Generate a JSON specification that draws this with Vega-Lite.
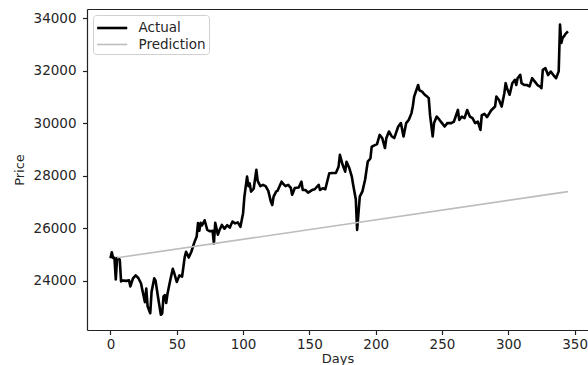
{
  "$schema": "https://vega.github.io/schema/vega-lite/v6.json",
  "width": 501,
  "height": 321,
  "autosize": {"type": "none"},
  "padding": {"left": 87, "top": 9, "right": 0, "bottom": 35},
  "background": "white",
  "config": {
    "view": {"stroke": null},
    "font": "DejaVu Sans",
    "axis": {
      "grid": false,
      "domainColor": "#222222",
      "domainWidth": 1.2,
      "tickColor": "#222222",
      "tickSize": 4.5,
      "tickWidth": 1.2,
      "labelFont": "DejaVu Sans",
      "labelFontSize": 13.5,
      "labelColor": "#262626",
      "labelPadding": 3,
      "titleFont": "DejaVu Sans",
      "titleFontSize": 13,
      "titleFontWeight": "normal",
      "titleColor": "#262626"
    }
  },
  "datasets": {
    "prices": [
      {"day": 0, "price": 24850, "series": "Actual"},
      {"day": 1, "price": 25080, "series": "Actual"},
      {"day": 2, "price": 24860, "series": "Actual"},
      {"day": 3, "price": 24870, "series": "Actual"},
      {"day": 4, "price": 24050, "series": "Actual"},
      {"day": 5, "price": 24860, "series": "Actual"},
      {"day": 6, "price": 24850, "series": "Actual"},
      {"day": 7, "price": 24800, "series": "Actual"},
      {"day": 8, "price": 23970, "series": "Actual"},
      {"day": 9, "price": 24000, "series": "Actual"},
      {"day": 10, "price": 24000, "series": "Actual"},
      {"day": 12, "price": 23990, "series": "Actual"},
      {"day": 14, "price": 24010, "series": "Actual"},
      {"day": 15, "price": 23780, "series": "Actual"},
      {"day": 17, "price": 24090, "series": "Actual"},
      {"day": 19, "price": 24200, "series": "Actual"},
      {"day": 21, "price": 24100, "series": "Actual"},
      {"day": 23, "price": 23900, "series": "Actual"},
      {"day": 24, "price": 23650, "series": "Actual"},
      {"day": 26, "price": 23180, "series": "Actual"},
      {"day": 27, "price": 23700, "series": "Actual"},
      {"day": 28, "price": 23020, "series": "Actual"},
      {"day": 30, "price": 22760, "series": "Actual"},
      {"day": 31, "price": 23580, "series": "Actual"},
      {"day": 33, "price": 24090, "series": "Actual"},
      {"day": 34, "price": 24000, "series": "Actual"},
      {"day": 36, "price": 23330, "series": "Actual"},
      {"day": 38, "price": 22700, "series": "Actual"},
      {"day": 39, "price": 22750, "series": "Actual"},
      {"day": 40, "price": 23400, "series": "Actual"},
      {"day": 41, "price": 23450, "series": "Actual"},
      {"day": 42, "price": 23150, "series": "Actual"},
      {"day": 43, "price": 23500, "series": "Actual"},
      {"day": 45, "price": 24000, "series": "Actual"},
      {"day": 47, "price": 24450, "series": "Actual"},
      {"day": 48, "price": 24300, "series": "Actual"},
      {"day": 50, "price": 23950, "series": "Actual"},
      {"day": 52, "price": 24200, "series": "Actual"},
      {"day": 54, "price": 24150, "series": "Actual"},
      {"day": 56, "price": 24900, "series": "Actual"},
      {"day": 57, "price": 25100, "series": "Actual"},
      {"day": 59, "price": 24880, "series": "Actual"},
      {"day": 61, "price": 25100, "series": "Actual"},
      {"day": 63, "price": 25420, "series": "Actual"},
      {"day": 65, "price": 25680, "series": "Actual"},
      {"day": 66, "price": 26190, "series": "Actual"},
      {"day": 67, "price": 25900, "series": "Actual"},
      {"day": 68, "price": 26200, "series": "Actual"},
      {"day": 69, "price": 26100, "series": "Actual"},
      {"day": 71, "price": 26300, "series": "Actual"},
      {"day": 73, "price": 25930, "series": "Actual"},
      {"day": 75, "price": 25880, "series": "Actual"},
      {"day": 77, "price": 25900, "series": "Actual"},
      {"day": 78, "price": 25420, "series": "Actual"},
      {"day": 79, "price": 26200, "series": "Actual"},
      {"day": 81, "price": 25750, "series": "Actual"},
      {"day": 82, "price": 25900, "series": "Actual"},
      {"day": 84, "price": 26120, "series": "Actual"},
      {"day": 86, "price": 25980, "series": "Actual"},
      {"day": 88, "price": 26110, "series": "Actual"},
      {"day": 90, "price": 26020, "series": "Actual"},
      {"day": 92, "price": 26250, "series": "Actual"},
      {"day": 94, "price": 26180, "series": "Actual"},
      {"day": 96, "price": 26220, "series": "Actual"},
      {"day": 98, "price": 26050, "series": "Actual"},
      {"day": 100, "price": 26570, "series": "Actual"},
      {"day": 101, "price": 27200, "series": "Actual"},
      {"day": 103, "price": 27960, "series": "Actual"},
      {"day": 104, "price": 27600, "series": "Actual"},
      {"day": 105, "price": 27700, "series": "Actual"},
      {"day": 106, "price": 27390, "series": "Actual"},
      {"day": 108, "price": 27500, "series": "Actual"},
      {"day": 110, "price": 28220, "series": "Actual"},
      {"day": 111, "price": 27800, "series": "Actual"},
      {"day": 113, "price": 27600, "series": "Actual"},
      {"day": 115, "price": 27650, "series": "Actual"},
      {"day": 117, "price": 27600, "series": "Actual"},
      {"day": 119, "price": 27420, "series": "Actual"},
      {"day": 121, "price": 27000, "series": "Actual"},
      {"day": 122, "price": 26880, "series": "Actual"},
      {"day": 123, "price": 27200, "series": "Actual"},
      {"day": 125, "price": 27400, "series": "Actual"},
      {"day": 126, "price": 27420, "series": "Actual"},
      {"day": 129, "price": 27770, "series": "Actual"},
      {"day": 130, "price": 27700, "series": "Actual"},
      {"day": 132, "price": 27600, "series": "Actual"},
      {"day": 134, "price": 27650, "series": "Actual"},
      {"day": 136, "price": 27530, "series": "Actual"},
      {"day": 137, "price": 27270, "series": "Actual"},
      {"day": 139, "price": 27530, "series": "Actual"},
      {"day": 142, "price": 27550, "series": "Actual"},
      {"day": 144, "price": 27770, "series": "Actual"},
      {"day": 145, "price": 27450, "series": "Actual"},
      {"day": 147, "price": 27450, "series": "Actual"},
      {"day": 149, "price": 27350, "series": "Actual"},
      {"day": 152, "price": 27450, "series": "Actual"},
      {"day": 154, "price": 27480, "series": "Actual"},
      {"day": 157, "price": 27650, "series": "Actual"},
      {"day": 158, "price": 27450, "series": "Actual"},
      {"day": 160, "price": 27520, "series": "Actual"},
      {"day": 162, "price": 27480, "series": "Actual"},
      {"day": 165, "price": 28090, "series": "Actual"},
      {"day": 168, "price": 28100, "series": "Actual"},
      {"day": 170, "price": 28100, "series": "Actual"},
      {"day": 172, "price": 28340, "series": "Actual"},
      {"day": 173, "price": 28790, "series": "Actual"},
      {"day": 175, "price": 28420, "series": "Actual"},
      {"day": 177, "price": 28150, "series": "Actual"},
      {"day": 178, "price": 28530, "series": "Actual"},
      {"day": 180, "price": 28300, "series": "Actual"},
      {"day": 182, "price": 27960, "series": "Actual"},
      {"day": 183, "price": 27650, "series": "Actual"},
      {"day": 185, "price": 27100, "series": "Actual"},
      {"day": 186, "price": 25930, "series": "Actual"},
      {"day": 188, "price": 27200, "series": "Actual"},
      {"day": 190, "price": 27400, "series": "Actual"},
      {"day": 192, "price": 27840, "series": "Actual"},
      {"day": 194, "price": 28530, "series": "Actual"},
      {"day": 196, "price": 28650, "series": "Actual"},
      {"day": 197, "price": 29100, "series": "Actual"},
      {"day": 199, "price": 29150, "series": "Actual"},
      {"day": 201, "price": 29200, "series": "Actual"},
      {"day": 203, "price": 29550, "series": "Actual"},
      {"day": 205, "price": 29420, "series": "Actual"},
      {"day": 207, "price": 29050, "series": "Actual"},
      {"day": 208, "price": 29420, "series": "Actual"},
      {"day": 210, "price": 29680, "series": "Actual"},
      {"day": 212, "price": 29500, "series": "Actual"},
      {"day": 214, "price": 29430, "series": "Actual"},
      {"day": 217, "price": 29870, "series": "Actual"},
      {"day": 219, "price": 30000, "series": "Actual"},
      {"day": 221, "price": 29490, "series": "Actual"},
      {"day": 223, "price": 30000, "series": "Actual"},
      {"day": 225, "price": 30130, "series": "Actual"},
      {"day": 227, "price": 30380, "series": "Actual"},
      {"day": 228, "price": 30640, "series": "Actual"},
      {"day": 229, "price": 31010, "series": "Actual"},
      {"day": 232, "price": 31450, "series": "Actual"},
      {"day": 233, "price": 31250, "series": "Actual"},
      {"day": 235, "price": 31200, "series": "Actual"},
      {"day": 237, "price": 31080, "series": "Actual"},
      {"day": 239, "price": 31000, "series": "Actual"},
      {"day": 240, "price": 30950, "series": "Actual"},
      {"day": 241, "price": 30300, "series": "Actual"},
      {"day": 243, "price": 29490, "series": "Actual"},
      {"day": 244, "price": 30000, "series": "Actual"},
      {"day": 246, "price": 30250, "series": "Actual"},
      {"day": 248, "price": 30130, "series": "Actual"},
      {"day": 250, "price": 30000, "series": "Actual"},
      {"day": 252, "price": 29870, "series": "Actual"},
      {"day": 254, "price": 30000, "series": "Actual"},
      {"day": 257, "price": 30000, "series": "Actual"},
      {"day": 259, "price": 30060, "series": "Actual"},
      {"day": 262, "price": 30500, "series": "Actual"},
      {"day": 263, "price": 30120, "series": "Actual"},
      {"day": 265, "price": 30250, "series": "Actual"},
      {"day": 267, "price": 30190, "series": "Actual"},
      {"day": 269, "price": 30500, "series": "Actual"},
      {"day": 271, "price": 30250, "series": "Actual"},
      {"day": 273, "price": 30190, "series": "Actual"},
      {"day": 275, "price": 30000, "series": "Actual"},
      {"day": 277, "price": 30060, "series": "Actual"},
      {"day": 279, "price": 29740, "series": "Actual"},
      {"day": 280, "price": 30300, "series": "Actual"},
      {"day": 282, "price": 30350, "series": "Actual"},
      {"day": 284, "price": 30230, "series": "Actual"},
      {"day": 287, "price": 30480, "series": "Actual"},
      {"day": 290, "price": 30630, "series": "Actual"},
      {"day": 291, "price": 31010, "series": "Actual"},
      {"day": 293, "price": 30880, "series": "Actual"},
      {"day": 295, "price": 30630, "series": "Actual"},
      {"day": 297, "price": 31140, "series": "Actual"},
      {"day": 298, "price": 31520, "series": "Actual"},
      {"day": 299, "price": 31330, "series": "Actual"},
      {"day": 301, "price": 31080, "series": "Actual"},
      {"day": 303, "price": 31520, "series": "Actual"},
      {"day": 305, "price": 31650, "series": "Actual"},
      {"day": 306, "price": 31450, "series": "Actual"},
      {"day": 307, "price": 31710, "series": "Actual"},
      {"day": 309, "price": 31840, "series": "Actual"},
      {"day": 310, "price": 31520, "series": "Actual"},
      {"day": 312, "price": 31450, "series": "Actual"},
      {"day": 314, "price": 31450, "series": "Actual"},
      {"day": 316, "price": 31400, "series": "Actual"},
      {"day": 318, "price": 31710, "series": "Actual"},
      {"day": 320, "price": 31580, "series": "Actual"},
      {"day": 322, "price": 31450, "series": "Actual"},
      {"day": 324, "price": 31390, "series": "Actual"},
      {"day": 325, "price": 31330, "series": "Actual"},
      {"day": 326, "price": 32030, "series": "Actual"},
      {"day": 328, "price": 32090, "series": "Actual"},
      {"day": 330, "price": 31830, "series": "Actual"},
      {"day": 332, "price": 31960, "series": "Actual"},
      {"day": 334, "price": 31830, "series": "Actual"},
      {"day": 336, "price": 31710, "series": "Actual"},
      {"day": 338, "price": 31970, "series": "Actual"},
      {"day": 339, "price": 33750, "series": "Actual"},
      {"day": 340, "price": 33050, "series": "Actual"},
      {"day": 341, "price": 33250, "series": "Actual"},
      {"day": 342, "price": 33300, "series": "Actual"},
      {"day": 343, "price": 33390, "series": "Actual"},
      {"day": 345, "price": 33490, "series": "Actual"},
      {"day": 5, "price": 24870, "series": "Prediction"},
      {"day": 345, "price": 27390, "series": "Prediction"}
    ]
  },
  "data": {"name": "prices"},
  "layer": [
    {
      "mark": {"type": "line", "strokeJoin": "round", "strokeCap": "butt"},
      "encoding": {
        "x": {
          "field": "day",
          "type": "quantitative",
          "scale": {"domain": [-17.7, 360.1], "nice": false, "zero": false},
          "axis": {"title": "Days", "values": [0, 50, 100, 150, 200, 250, 300, 350], "format": "d", "titlePadding": 1}
        },
        "y": {
          "field": "price",
          "type": "quantitative",
          "scale": {"domain": [22120, 34345], "nice": false, "zero": false},
          "axis": {"title": "Price", "values": [24000, 26000, 28000, 30000, 32000, 34000], "format": "d", "labelPadding": 6.5, "titlePadding": 7}
        },
        "color": {
          "field": "series",
          "type": "nominal",
          "scale": {"domain": ["Actual", "Prediction"], "range": ["#000000", "#bdbdbd"]},
          "legend": {
            "title": null,
            "orient": "none",
            "legendX": 6,
            "legendY": 6,
            "symbolType": "M-1,0H2.4",
            "symbolSize": 313,
            "symbolStrokeWidth": 2,
            "labelFont": "DejaVu Sans",
            "labelFontSize": 13.5,
            "labelColor": "#262626",
            "labelOffset": 22,
            "padding": 2.5,
            "rowPadding": 0,
            "strokeColor": "#d0d0d0",
            "fillColor": "#ffffff",
            "cornerRadius": 3
          }
        },
        "strokeWidth": {
          "field": "series",
          "type": "nominal",
          "scale": {"domain": ["Actual", "Prediction"], "range": [2.6, 1.6]},
          "legend": null
        }
      }
    },
    {
      "mark": {"type": "line", "opacity": 0},
      "encoding": {
        "x": {
          "field": "day",
          "type": "quantitative",
          "axis": {"orient": "top", "title": null, "labels": false, "ticks": false, "domain": true}
        },
        "y": {"field": "price", "type": "quantitative"},
        "detail": {"field": "series"}
      }
    }
  ],
  "resolve": {"axis": {"x": "independent"}}
}
